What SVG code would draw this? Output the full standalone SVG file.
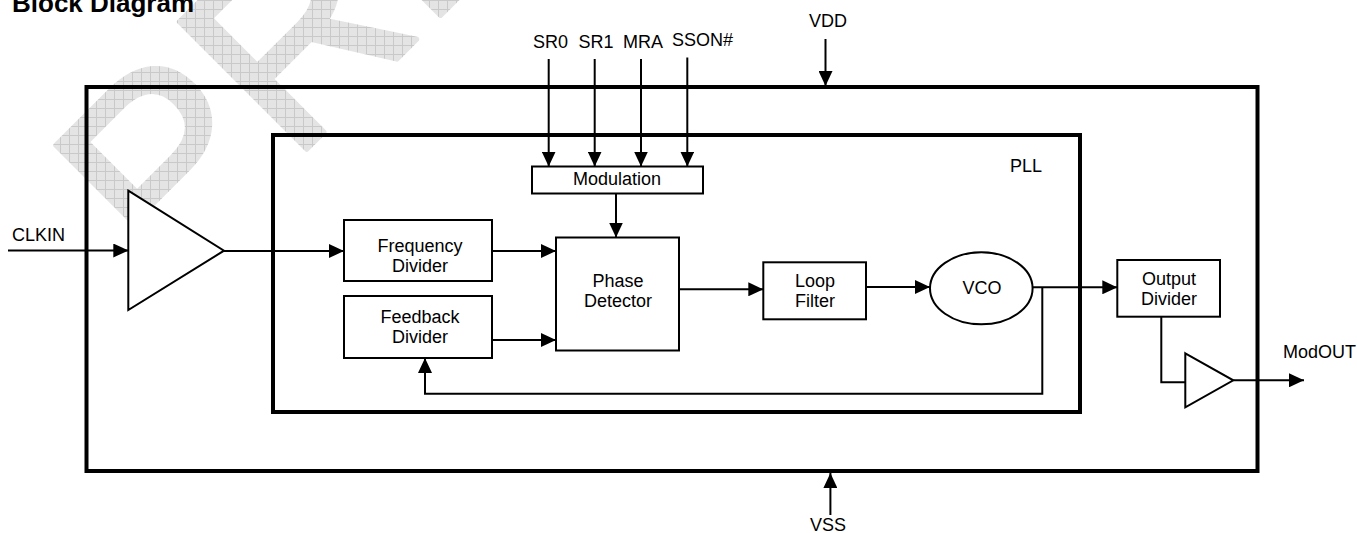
<svg xmlns="http://www.w3.org/2000/svg" width="1357" height="533" viewBox="0 0 1357 533">
<style>
text { font-family: "Liberation Sans", Arial, sans-serif; font-size: 18px; fill: #000; }
.mid { text-anchor: middle; }
.box { fill: #fff; stroke: #000; stroke-width: 2; }
.thick { fill: none; stroke: #000; stroke-width: 4; }
.wire { fill: none; stroke: #000; stroke-width: 2; }
.arrow { fill: none; stroke: #000; stroke-width: 2; marker-end: url(#ah); }
.title { font-weight: bold; font-size: 26px; }
.wm { font-size: 262px; fill: url(#grid); stroke: url(#grid); stroke-width: 5; stroke-linejoin: round; }
</style>
<defs>
<marker id="ah" markerUnits="userSpaceOnUse" markerWidth="15" markerHeight="14" refX="15" refY="7" orient="auto">
<path d="M0,0 L15,7 L0,14 z" fill="#000"/>
</marker>
<pattern id="grid" patternUnits="userSpaceOnUse" width="9" height="9" patternTransform="rotate(45)">
<rect width="9" height="9" fill="#e4e4e4"/>
<path d="M0,0.5 H9 M0.5,0 V9" stroke="#c9c9c9" stroke-width="1"/>
</pattern>
</defs>
<rect width="1357" height="533" fill="#fff"/>
<g id="watermark">
<text class="wm" transform="translate(168,288) rotate(-45)">PRE</text>
</g>
<text class="title" x="12" y="12">Block Diagram</text>
<g id="chip">
<rect class="thick" x="86.5" y="87" width="1171" height="384"/>
</g>
<g id="pll">
<rect class="thick" x="273" y="135" width="807" height="277"/>
<text x="1010" y="172">PLL</text>
</g>
<g id="connectors">
<line class="arrow" x1="825.5" y1="39" x2="825.5" y2="86"/>
<line class="arrow" x1="548.7" y1="59" x2="548.7" y2="166.5"/>
<line class="arrow" x1="594.7" y1="59" x2="594.7" y2="166.5"/>
<line class="arrow" x1="641" y1="59" x2="641" y2="166.5"/>
<line class="arrow" x1="687.3" y1="57.5" x2="687.3" y2="166.5"/>
<line class="arrow" x1="616" y1="193.5" x2="616" y2="237.5"/>
<line class="arrow" x1="8" y1="250.5" x2="128.3" y2="250.5"/>
<line class="arrow" x1="224" y1="251" x2="344" y2="251"/>
<line class="arrow" x1="492" y1="251" x2="556" y2="251"/>
<line class="arrow" x1="492" y1="340" x2="556" y2="340"/>
<line class="arrow" x1="679" y1="289.3" x2="763.3" y2="289.3"/>
<line class="arrow" x1="866" y1="287" x2="930" y2="287"/>
<line class="arrow" x1="1032.6" y1="287.3" x2="1117.3" y2="287.3"/>
<polyline class="arrow" points="1042.3,287.3 1042.3,393.8 425,393.8 425,358"/>
<polyline class="wire" points="1161.3,316.7 1161.3,382.3 1185.3,382.3"/>
<line class="arrow" x1="1233.3" y1="380.3" x2="1304" y2="380.3"/>
<line class="arrow" x1="830.4" y1="515" x2="830.4" y2="473"/>
</g>
<g id="labels">
<text class="mid" x="828" y="27">VDD</text>
<text class="mid" x="550.5" y="48">SR0</text>
<text class="mid" x="596" y="48">SR1</text>
<text class="mid" x="643" y="48">MRA</text>
<text class="mid" x="702.5" y="45.5">SSON#</text>
<text x="12" y="240.7">CLKIN</text>
<text x="1283" y="357.7">ModOUT</text>
<text class="mid" x="828" y="531">VSS</text>
</g>
<g id="input-buffer">
<polygon class="box" points="128.3,190.7 224,250.7 128.3,310"/>
</g>
<g id="modulation">
<rect class="box" x="532" y="166.5" width="171" height="27"/>
<text class="mid" x="617" y="185">Modulation</text>
</g>
<g id="frequency-divider">
<rect class="box" x="344" y="220" width="148" height="61"/>
<text class="mid" x="420" y="251.7">Frequency</text>
<text class="mid" x="420" y="271.7">Divider</text>
</g>
<g id="feedback-divider">
<rect class="box" x="344" y="296" width="148" height="62"/>
<text class="mid" x="420" y="323.3">Feedback</text>
<text class="mid" x="420" y="343.3">Divider</text>
</g>
<g id="phase-detector">
<rect class="box" x="556" y="237.5" width="123" height="113"/>
<text class="mid" x="618" y="286.7">Phase</text>
<text class="mid" x="618" y="307.3">Detector</text>
</g>
<g id="loop-filter">
<rect class="box" x="763.3" y="262.3" width="102.7" height="57"/>
<text class="mid" x="815" y="287.3">Loop</text>
<text class="mid" x="815" y="307.3">Filter</text>
</g>
<g id="vco">
<ellipse class="box" cx="981.3" cy="288.3" rx="51.3" ry="36"/>
<text class="mid" x="982" y="294">VCO</text>
</g>
<g id="output-divider">
<rect class="box" x="1117.3" y="260" width="102.7" height="56.7"/>
<text class="mid" x="1169" y="285">Output</text>
<text class="mid" x="1169" y="305">Divider</text>
</g>
<g id="output-buffer">
<polygon class="box" points="1185.3,353.3 1233.3,380.3 1185.3,407.3"/>
</g>
</svg>
